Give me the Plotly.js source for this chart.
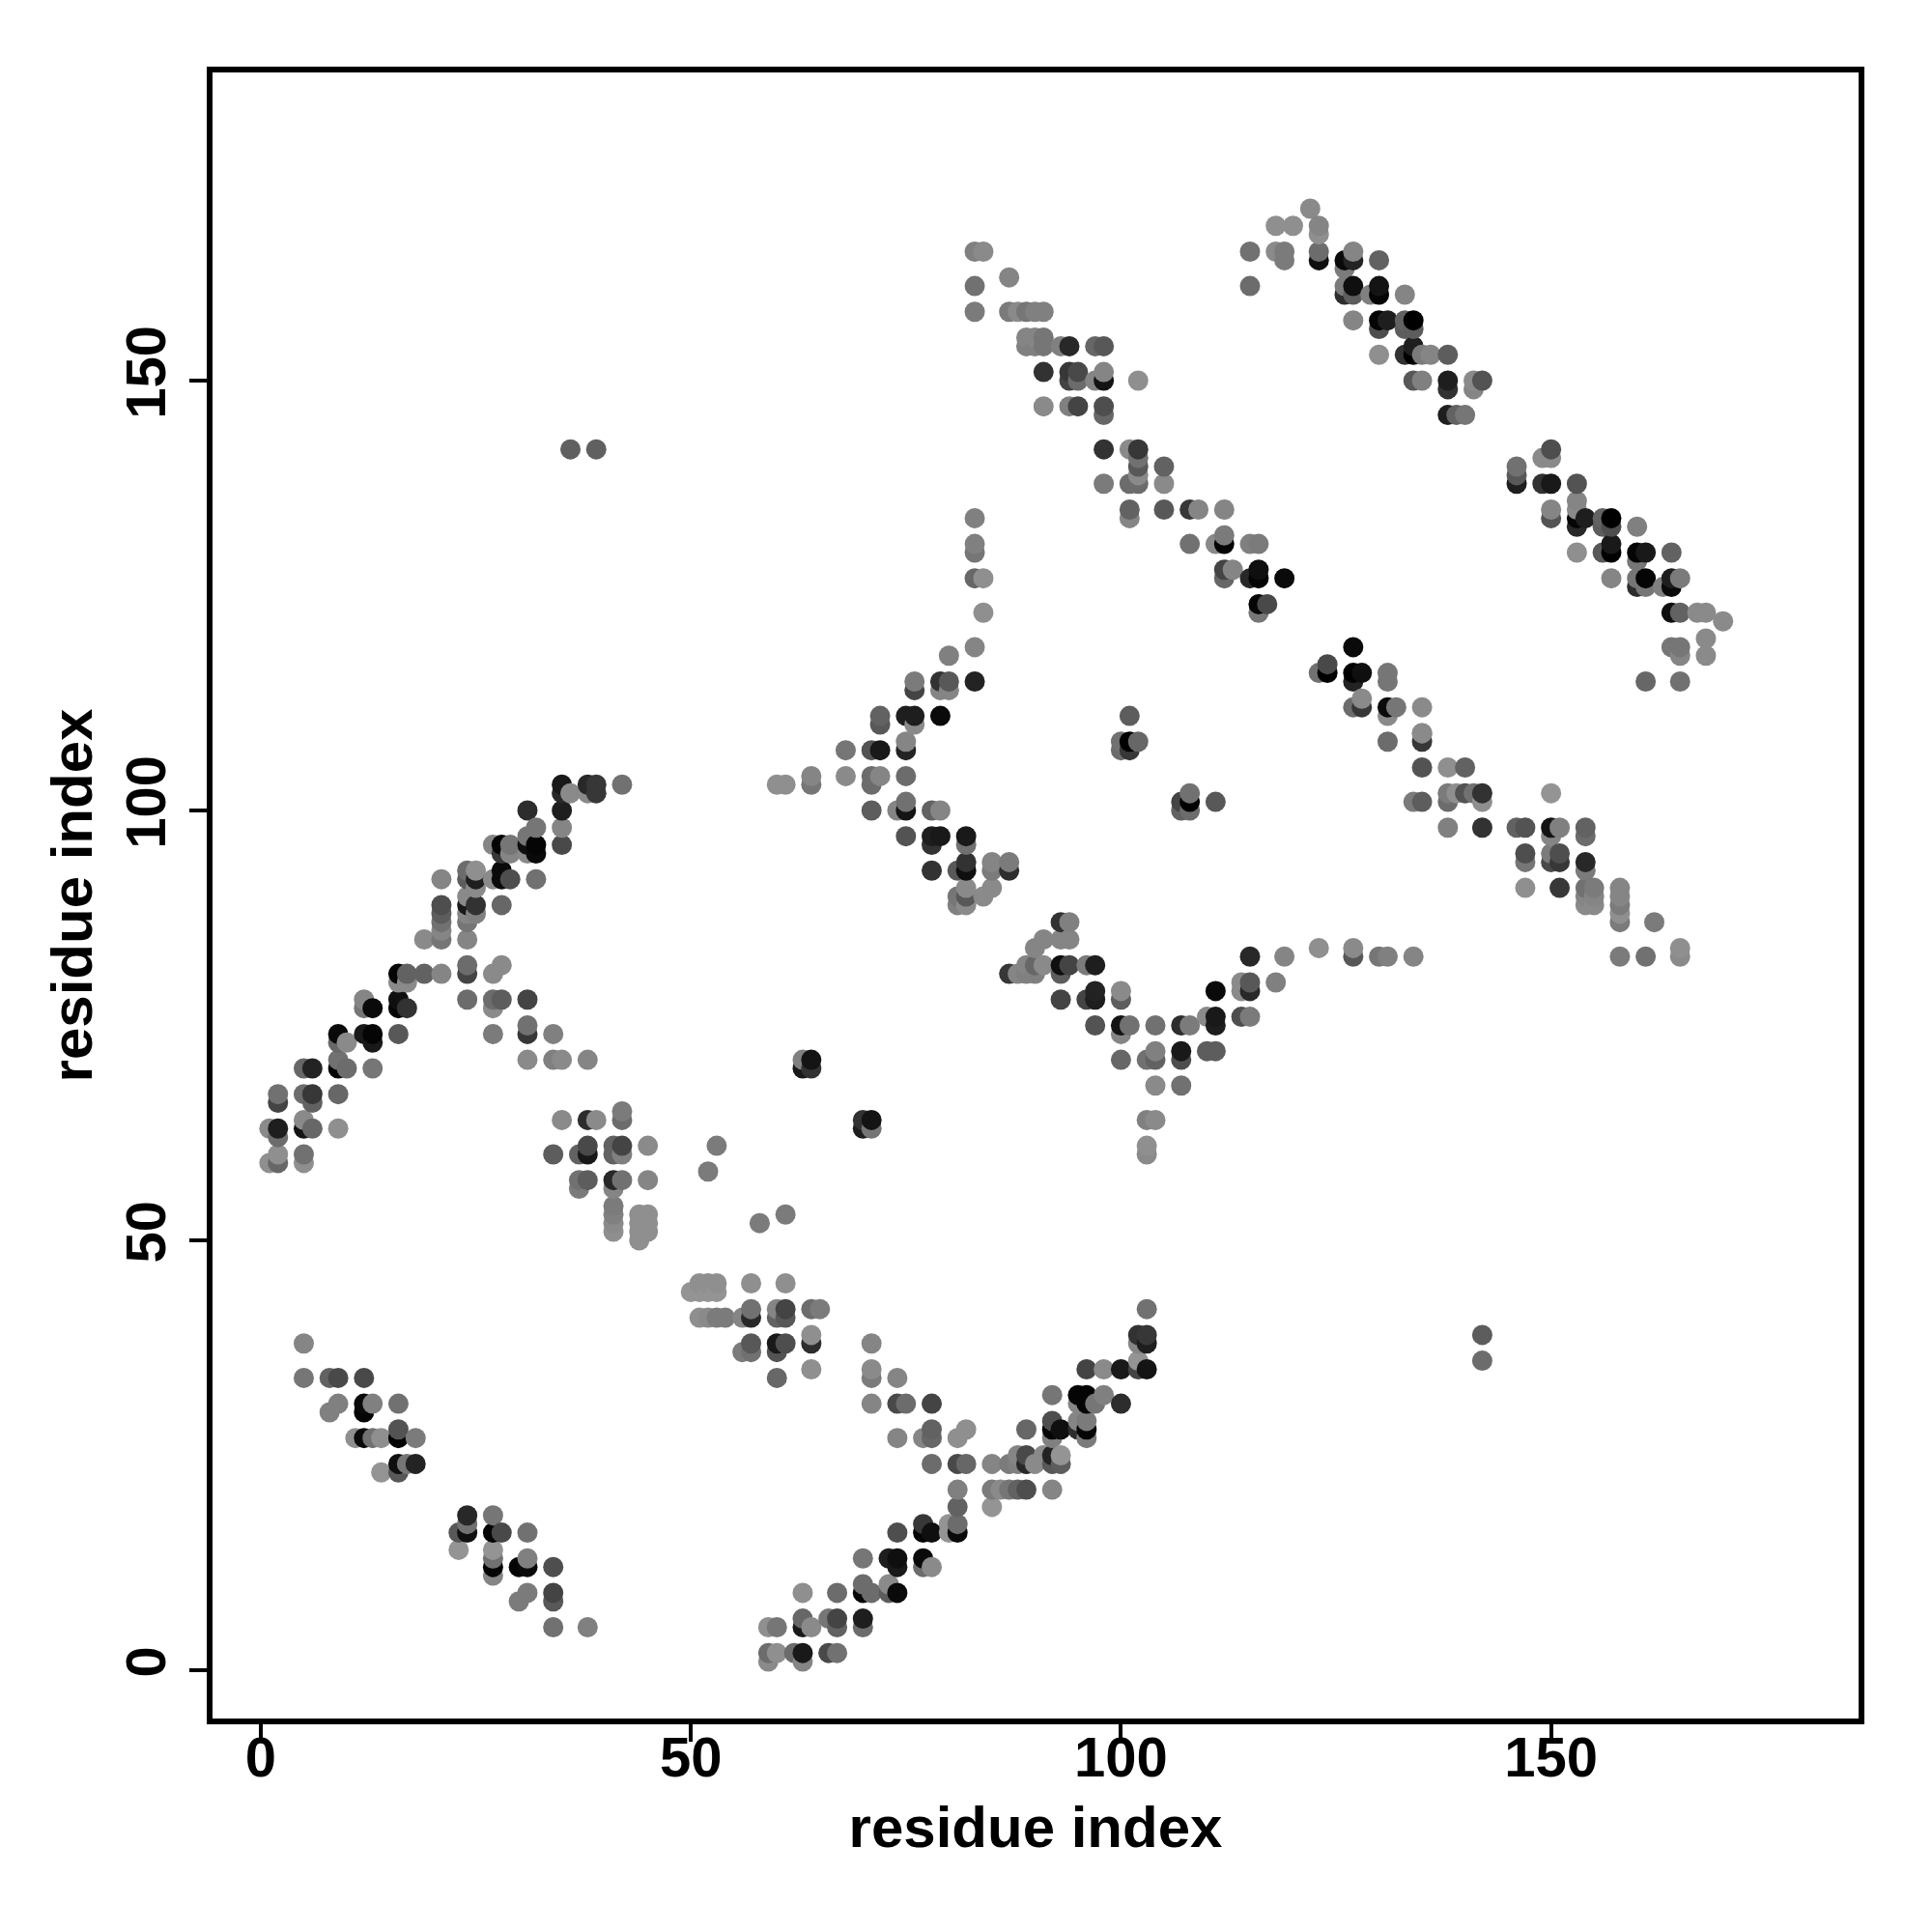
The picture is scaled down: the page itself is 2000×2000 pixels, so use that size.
<!DOCTYPE html>
<html>
<head>
<meta charset="utf-8">
<script src="https://cdn.plot.ly/plotly-3.0.1.min.js"></script>
<style>html,body{margin:0;padding:0;background:#fff}</style>
</head>
<body>
<div id="chart" style="width:2000px;height:2000px"></div>
<script>
// each entry: [residue i, residue j, grey level]
const lowerLeftA = [[5,38,125],[5,34,110],[8,34,90],[9,34,65],[12,34,65],[9,31,120],[8,30,120],[12,31,10],[12,30,5],[13,31,120],[16,31,105],
[11,27,135],[12,27,10],[13,27,105],[14,27,135],[16,27,0],[18,27,115],[16,28,75],[16,24,15],[17,24,110],[18,24,35],[14,23,140],[16,23,80]];
const lowerLeftB = [[24,18,40],[27,18,110],[23,16,80],[24,16,15],[24,17,105],[27,16,5],[28,16,65],[31,16,105],[23,14,140],[27,14,140],[27,13,105],[27,12,5],[27,11,125],
[30,12,5],[31,12,10],[31,13,120],[34,12,70],[31,9,115],[30,8,115],[34,9,60],[34,8,80],[34,5,105],[38,5,120]];
const bottomRise = [[59,2,100],[60,2,135],[59,1,130],[62,2,100],[63,2,25],[63,1,125],[66,2,65],[67,2,105],[59,5,135],[60,5,110],[63,6,95],[63,5,25],[64,5,130],
[66,6,110],[67,6,60],[67,5,90],[70,6,30],[70,5,100],[63,9,135],[67,9,100],[70,10,100],[70,9,5],[71,9,100],[73,10,130],[73,9,85],[74,9,10],
[70,13,110],[73,13,30],[74,13,15],[74,12,25],[77,13,10],[77,12,100],[78,12,130],[74,16,70],[77,17,55],[77,16,5],[78,16,15],[80,17,140],[80,16,140],[81,17,100],[81,16,10],
[81,19,90],[81,21,120],[85,19,140],[85,21,115],[86,21,130],[87,21,110],[88,21,90],[89,21,70],[92,21,125]];
const bottomRiseTop = [[78,24,100],[81,24,65],[82,24,95],[85,24,125],[87,24,115],[88,24,120],[89,25,65],[89,24,40],[90,24,130],[88,25,125],[91,25,130],[92,25,35],[92,24,80],[93,24,85],[93,25,140],
[74,27,125],[77,27,125],[78,27,95],[78,28,90],[81,27,135],[82,28,135],[89,28,95],[92,29,70],[92,27,120],[92,28,5],[93,28,15],[95,29,125],[95,28,45],[96,29,115],[96,28,5],[96,27,115],
[92,32,110],[95,32,5],[96,32,5],[95,31,125],[96,31,5],[97,31,110],[98,32,120],[100,31,45],[96,35,60],[98,35,130],[100,35,25],[102,35,60],[102,36,140],[103,35,20],
[102,38,125],[102,39,50],[103,39,55],[103,38,30],[103,42,105],[142,39,85],[142,36,100]];
const middleLow = [[50,44,140],[51,44,140],[52,44,140],[53,44,140],[51,45,135],[52,45,135],[53,45,135],[57,45,135],[61,45,135],
[57,42,105],[60,42,125],[61,42,60],[64,42,100],[65,42,115],[51,41,135],[52,41,130],[53,41,115],[54,41,115],[56,41,125],[57,41,40],[60,41,90],[61,41,80],
[64,39,135],[57,38,80],[60,38,25],[61,38,70],[64,38,45],[71,38,125],[56,37,115],[57,37,105],[60,37,75],[64,35,135],[71,35,130],[60,34,95],[71,34,115],[74,34,125],
[71,31,125],[74,31,65],[75,31,100],[78,31,60]];
const centreBlock = [[63,71,120],[64,71,20],[63,70,25],[64,70,50],[70,64,50],[71,64,20],[70,63,30],[71,63,110],
[35,64,130],[38,64,45],[39,64,130],[42,65,115],[42,64,100],[45,61,130],[38,61,65],[38,60,25],[37,60,90],[34,60,85],[41,61,90],[41,60,90],[42,61,60],[42,60,120],
[53,61,115],[52,58,115],[37,57,105],[38,57,85],[41,57,40],[42,57,105],[45,57,125],[37,56,115],[41,56,125],[41,54,115],[41,53,120],[41,52,130],[41,51,135],
[44,53,135],[44,52,135],[44,51,135],[44,50,135],[45,53,135],[45,52,135],[45,51,135],[58,52,115],[61,53,115]];
const leftRiseLow = [[1,59,135],[2,59,95],[2,60,135],[5,59,135],[5,60,105],[1,63,130],[2,63,30],[2,62,100],[5,63,20],[6,63,95],[5,64,130],[9,63,135],
[2,67,105],[2,66,60],[5,67,100],[6,67,55],[6,66,90],[9,67,95],[5,70,95],[6,70,35],[9,70,5],[9,71,105],[10,70,100],[13,70,110],
[9,74,10],[9,73,95],[10,73,130],[12,74,25],[13,74,5],[13,73,25],[16,74,80],[12,78,125],[12,77,110],[13,77,10],[16,78,15],[16,77,5],[17,77,50],
[16,81,5],[17,81,90],[16,80,130],[17,80,130],[19,81,90],[21,81,125]];
const leftBranch = [[24,82,100],[24,81,60],[27,81,130],[28,82,130],[24,78,100],[27,78,100],[28,78,85],[27,77,130],[31,78,60],[27,74,115],[31,74,55],[31,75,105],[34,74,120],
[31,71,130],[34,71,120],[35,71,130],[38,71,125]];
const leftRiseHigh = [[21,89,70],[21,88,85],[21,87,105],[21,86,125],[21,85,110],[19,85,130],[24,85,125],[24,87,110],[24,88,125],[24,89,25],[25,89,50],[25,88,120],[24,90,130],[28,89,95],
[21,92,125],[24,93,100],[24,92,85],[25,93,135],[25,92,30],[25,91,130],[27,92,130],[28,93,10],[28,92,10],[29,92,70],[32,92,105],
[27,96,125],[28,96,5],[29,96,110],[28,95,55],[29,95,125],[31,96,15],[32,96,5],[32,95,10],[31,95,130],[32,98,110],[31,97,110],[35,96,65],[35,98,125],[35,100,30],[31,100,45],
[35,103,25],[35,102,40],[36,102,130],[38,103,40],[39,103,55],[39,102,55],[38,102,130],[42,103,105],[36,142,88],[39,142,88]];
const middleUp = [[83,134,120],[83,131,120],[83,130,110],[83,127,95],[84,127,135],[84,123,135],[83,119,125],[80,118,120],[76,115,115],[76,114,60],[79,115,50],[80,115,80],[79,114,125],[80,114,125],[83,115,35],
[72,111,90],[72,110,80],[75,111,30],[76,111,30],[76,110,130],[79,111,10],[68,107,110],[71,107,75],[72,107,25],[75,108,125],[75,107,35],
[68,104,130],[64,104,125],[64,103,110],[60,103,135],[61,103,135],[71,104,100],[72,104,125],[71,103,100],[75,104,100],
[71,100,85],[74,100,125],[75,101,105],[75,100,20],[78,100,90],[79,100,125],[75,97,75],[78,97,30],[79,97,25],[78,96,50],[82,97,25],[82,96,105],
[78,93,50],[81,93,80],[82,94,50],[82,93,15],[85,94,125],[85,93,115],[87,94,115],[87,93,45],[85,91,130],[84,90,130],[82,91,130],[81,90,110],[82,90,80],[81,89,120],[82,89,130],
[101,111,85],[100,108,105],[101,108,0],[102,108,95],[100,107,100],[101,107,55]];
const centreValley = [[93,87,50],[94,87,120],[91,85,125],[90,84,125],[93,85,125],[94,85,125],[93,82,15],[94,82,60],[96,82,115],[97,82,30],[87,81,55],[88,81,125],[89,82,125],[90,82,95],[91,82,130],[89,81,120],[90,81,120],[93,81,85],
[97,79,35],[97,78,30],[96,78,60],[93,78,60],[100,79,130],[100,78,85],[97,75,75],[100,75,20],[101,75,105],[100,74,125],[104,75,105],[107,75,45],[108,75,115],[110,76,130],[111,76,25],[111,75,30],
[100,71,95],[103,71,105],[104,71,90],[104,72,120],[107,72,25],[107,71,70],[110,72,85],[111,72,85],[104,68,130],[107,68,105],[103,64,120],[104,64,130],[103,61,135],[103,60,130],
[111,79,10],[114,80,130],[115,80,80],[114,79,130],[115,79,40],[114,76,70],[115,76,115],[115,83,40],[119,83,125],[118,80,120],[123,84,135],[127,84,130],[127,83,80],[130,83,110],[131,83,120],[134,83,125]];
const lowerRightFall = [[131,108,100],[135,108,55],[135,109,130],[135,105,75],[138,105,135],[140,105,90],[138,102,115],[139,102,135],[140,102,75],[141,102,105],[142,102,50],[150,102,140],
[134,101,115],[135,101,85],[138,101,100],[142,101,135],[138,98,120],[142,98,50],[146,98,90],[147,98,75],[150,98,20],[151,98,120],[150,97,125],[154,98,90],[154,97,100],
[147,95,70],[150,95,115],[151,95,70],[147,94,110],[150,94,65],[151,94,55],[154,94,40],[154,93,115],[147,91,135],[151,91,55],[154,91,105],[155,91,115],[154,90,125],[155,90,125],[154,89,130],[155,89,130],
[158,91,125],[158,90,125],[158,89,115],[158,88,135],[158,87,115],[162,87,115],[158,83,115],[161,83,105],[165,83,130],[165,84,135]];
const upperFall = [[83,165,120],[84,165,130],[87,162,125],[83,161,105],[83,158,115],[87,158,115],[88,158,130],[89,158,110],[90,158,120],[91,158,120],
[89,155,125],[90,155,125],[91,155,110],[89,154,120],[90,154,120],[91,154,110],[93,154,120],[94,154,40],[97,154,95],[98,154,80],
[91,151,50],[94,151,55],[95,151,65],[98,151,125],[94,150,60],[95,150,100],[97,150,125],[98,150,20],[102,150,135],[91,147,130],[94,147,120],[95,147,60],[98,147,70],[98,146,95],
[98,142,50],[101,142,130],[102,142,55],[102,141,105],[102,140,80],[105,140,90],[102,139,130],[98,138,115],[101,138,100],[102,138,100],[105,138,130],
[101,135,90],[105,135,80],[108,135,55],[109,135,125],[112,135,125],[101,134,125],[108,131,105],[111,131,130],[112,131,5],[112,132,115],[115,131,120],[116,131,115],
[112,128,60],[113,128,125],[112,127,95],[115,127,40],[116,127,5],[116,128,15],[119,127,10],[116,124,5],[117,124,65],[116,123,110]];
const topRight = [[122,170,130],[118,168,135],[120,168,135],[123,168,125],[123,167,135],[115,165,105],[118,165,130],[119,165,115],[119,164,115],[123,165,100],[123,164,15],[115,161,100],
[126,164,10],[127,165,125],[127,164,35],[126,163,115],[130,164,90],[126,161,115],[127,161,15],[130,161,20],[126,160,45],[127,160,85],[129,160,120],[130,160,5],[133,160,125],
[127,157,125],[130,157,5],[131,157,30],[133,157,90],[134,157,0],[130,156,70],[133,156,85],[134,156,85],[130,153,135],[133,153,50],[134,153,0],[135,153,115],[136,153,125],[138,153,85],[134,154,30],
[134,150,80],[135,150,120],[138,150,30],[138,149,50],[141,150,130],[141,149,125],[142,150,75],[138,146,30],[139,146,90],[140,146,110]];
const farRight = [[150,142,70],[149,141,130],[150,141,130],[146,140,105],[146,139,80],[146,138,30],[149,138,50],[150,138,25],[153,138,75],
[153,136,125],[153,135,130],[150,135,125],[150,134,75],[153,134,5],[153,133,40],[154,134,30],[156,134,90],[157,134,0],[156,133,85],[157,133,70],[160,133,120],
[153,130,135],[156,130,80],[157,130,0],[157,131,25],[160,130,5],[161,130,25],[164,130,90],[160,129,110],[157,127,125],[160,127,110],[161,127,5],[160,126,45],[161,126,110],[164,127,30],[165,127,115],[164,126,10],[163,126,120],
[164,123,15],[165,123,90],[167,123,130],[168,123,130],[170,122,130],[168,120,130],[168,118,130],[164,119,110],[165,119,110],[165,118,125],[161,115,95],[165,115,105]];
const midRightFall = [[127,119,10],[123,116,105],[124,116,0],[124,117,65],[127,116,0],[128,116,15],[127,115,35],[131,116,110],[131,115,110],[127,112,100],[128,112,55],[128,113,130],[131,112,10],[132,112,110],[131,111,130],[135,112,130],
[135,109,130],[108,102,105],[108,101,0],[107,101,60],[107,100,90],[108,100,100],[111,101,80]];

const xTicks = [0, 50, 100, 150];
const yTicks = [0, 50, 100, 150];
const xTitle = 'residue index';
const yTitle = 'residue index';

// R draws the points in residue order: later residues sit on top
const contacts = [].concat(lowerLeftA, lowerLeftB, bottomRise, bottomRiseTop, middleLow, centreBlock,
  leftRiseLow, leftBranch, leftRiseHigh, middleUp, centreValley, lowerRightFall, upperFall, topRight, farRight, midRightFall)
  .sort((a, b) => a[0] - b[0] || a[1] - b[1]);

// the greys above were read a little dark in the mid and light range
const shade = g => { const v = g >= 60 ? g + 8 : g; return `rgb(${v},${v},${v})`; };

const font = {family: '"Liberation Sans", Arial, sans-serif', color: '#000', size: 58};
const axis = {
  showgrid: false, zeroline: false, showline: true, mirror: true, linecolor: '#000', linewidth: 6,
  ticks: 'outside', ticklen: 18, tickwidth: 4, tickcolor: '#000', tickmode: 'array',
  tickfont: {family: font.family, color: '#000', size: 58, weight: 700}
};

Plotly.newPlot('chart', [{
  type: 'scatter', mode: 'markers',
  x: contacts.map(p => p[0]), y: contacts.map(p => p[1]),
  marker: {size: 21, opacity: 1, line: {width: 0}, color: contacts.map(p => shade(p[2]))},
  hoverinfo: 'skip'
}], {
  width: 2000, height: 2000, showlegend: false,
  paper_bgcolor: '#fff', plot_bgcolor: '#fff',
  margin: {l: 220, r: 76, t: 75, b: 221, pad: 0},
  xaxis: Object.assign({}, axis, {range: [-5.61, 185.75], tickvals: xTicks, ticktext: xTicks.map(String), ticklabelstandoff: -34,
    title: {text: xTitle, standoff: 22, font: {family: font.family, color: '#000', size: 60, weight: 700}}}),
  yaxis: Object.assign({}, axis, {range: [-5.62, 185.84], tickvals: yTicks, ticktext: yTicks.map(String), tickangle: -90, ticklabelstandoff: 2,
    title: {text: yTitle, standoff: 5, font: {family: font.family, color: '#000', size: 60, weight: 700}}})
}, {staticPlot: true});
</script>
</body>
</html>
